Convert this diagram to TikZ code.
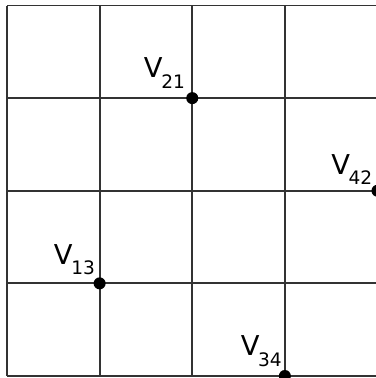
\documentclass[tikz,border=0pt]{standalone}
\usepackage{fontspec}
\setmainfont{DejaVu Sans}
\usetikzlibrary{positioning}

\newcommand{\vname}[1]{V\kern-0.8pt{\fontsize{11.4}{12}\selectfont\raisebox{-6.5pt}{#1}}}

\begin{document}
\begin{tikzpicture}[>=stealth]
    \useasboundingbox (-0.151,-0.043) rectangle (7.948,8.119);
    \draw[black!80,line width=1.2pt,step=2] (0,0) grid (8,8);
    \node[circle,fill=black,inner sep=0pt,minimum size=7.4pt] (V21) at (4,6) {};
    \node[circle,fill=black,inner sep=0pt,minimum size=7.4pt] (V42) at (8,4) {};
    \node[circle,fill=black,inner sep=0pt,minimum size=7.4pt] (V13) at (2,2) {};
    \node[circle,fill=black,inner sep=0pt,minimum size=7.4pt] (V34) at (6,0) {};
    \node[inner sep=0pt,font=\fontsize{16.8}{17}\selectfont,above left=6pt and 4.3pt of V21.center] (L21) {\vname{21}};
    \node[inner sep=0pt,font=\fontsize{16.8}{17}\selectfont,above left=3.5pt and 3pt of V42.center] (L42) {\vname{42}};
    \node[inner sep=0pt,font=\fontsize{16.8}{17}\selectfont,above left=4.9pt and 2.7pt of V13.center] (L13) {\vname{13}};
    \node[inner sep=0pt,font=\fontsize{16.8}{17}\selectfont,above left=5.7pt and 1.7pt of V34.center] (L34) {\vname{34}};
\end{tikzpicture}
\end{document}
